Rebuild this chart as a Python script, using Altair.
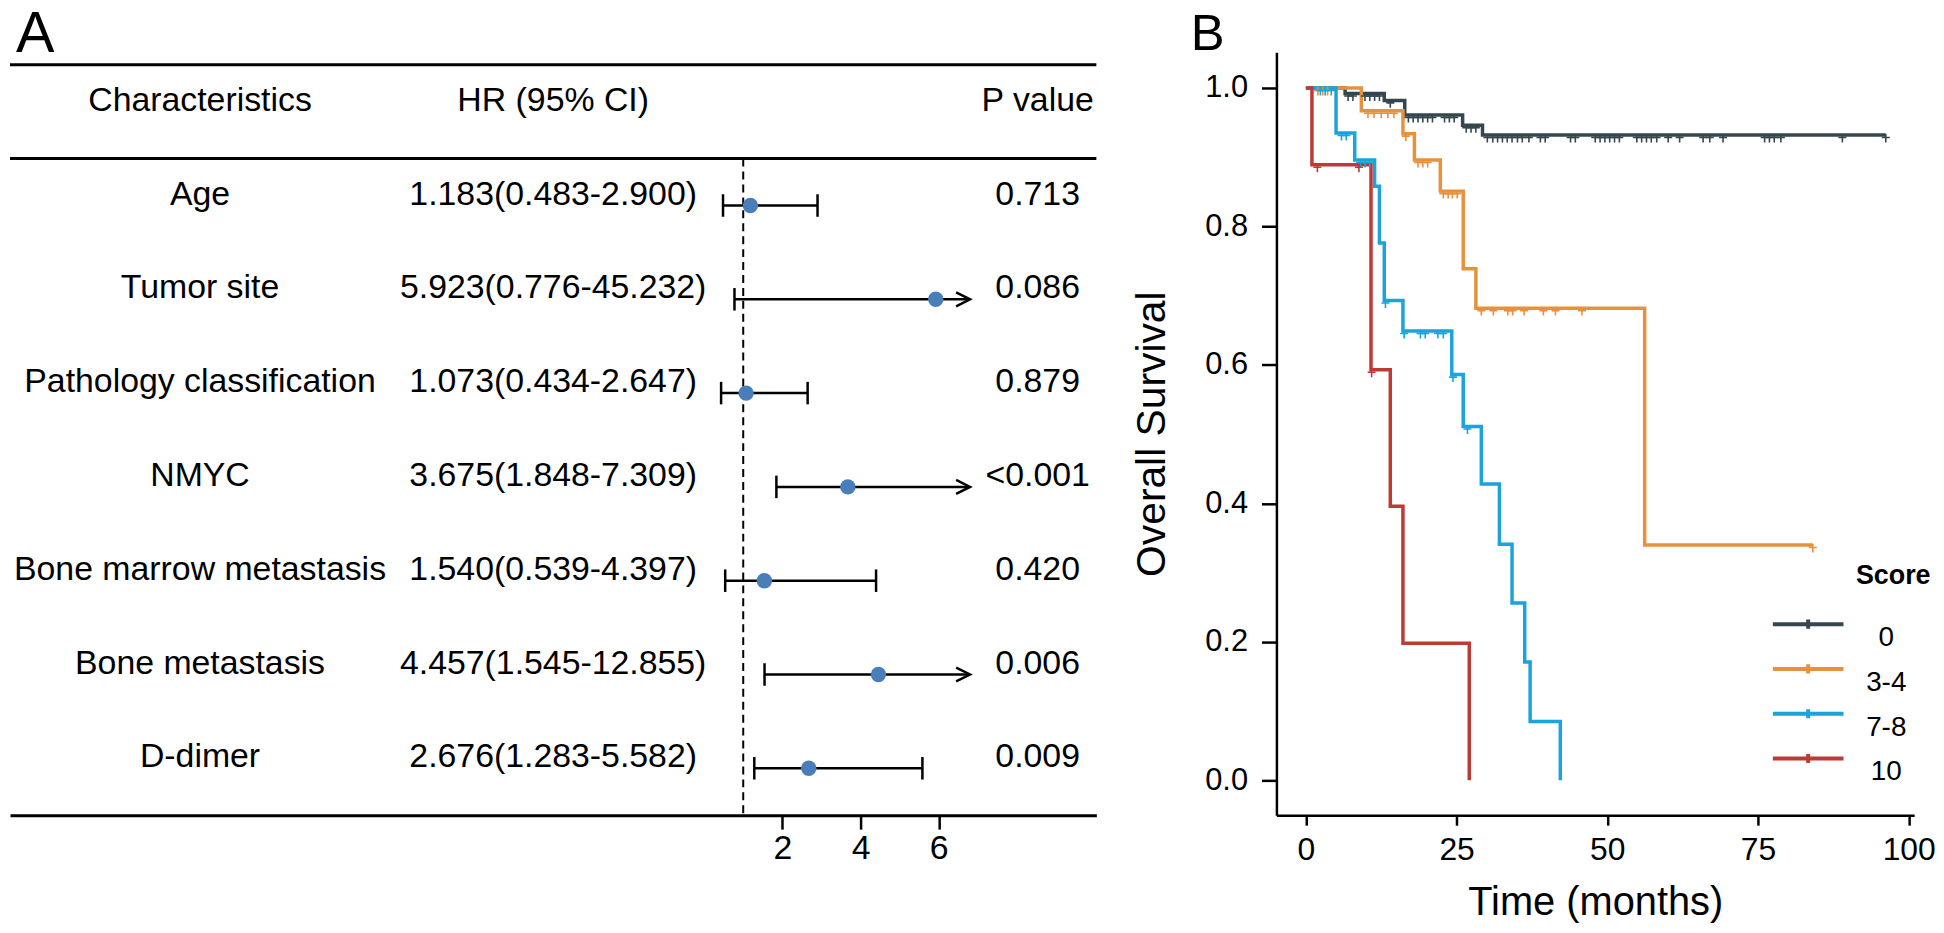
import altair as alt
import pandas as pd

FONT = "Liberation Sans"

# ---------------- Panel A: forest plot data ----------------
characteristics = ["Age", "Tumor site", "Pathology classification", "NMYC",
                   "Bone marrow metastasis", "Bone metastasis", "D-dimer"]
hr_est = [1.183, 5.923, 1.073, 3.675, 1.540, 4.457, 2.676]
ci_low = [0.483, 0.776, 0.434, 1.848, 0.539, 1.545, 1.283]
ci_high = [2.900, 45.232, 2.647, 7.309, 4.397, 12.855, 5.582]
p_values = ["0.713", "0.086", "0.879", "<0.001", "0.420", "0.006", "0.009"]
headers = ["Characteristics", "HR (95% CI)", "P value"]
hr_ticks = [2, 4, 6]
hr_axis_max = 6.8

# ---------------- Panel B: Kaplan-Meier data ----------------
score_groups = ["0", "3-4", "7-8", "10"]
score_colors = ["#34464E", "#E8913D", "#1BA3DB", "#BD3B33"]

time_0 = [0, 6.5, 13.0, 16.4, 26.0, 29.3, 96.2]
surv_0 = [1.0, 0.992, 0.982, 0.961, 0.946, 0.932, 0.932]
cens_0 = [7.0, 7.8, 9.8, 10.6, 11.4, 12.2, 14.0, 17.0, 17.8, 18.6, 19.4, 20.2,
          21.0, 23.0, 23.8, 24.6, 26.6, 27.4, 28.2, 30.1, 31.0, 31.8, 32.6,
          33.4, 34.2, 35.1, 35.9, 37.0, 38.9, 39.7, 43.9, 44.7, 48.0, 48.8,
          49.6, 50.4, 51.2, 52.0, 54.9, 55.7, 56.5, 57.3, 58.2, 60.1, 62.0,
          65.9, 67.0, 69.2, 76.1, 76.9, 77.7, 78.8, 89.0, 96.2]

time_34 = [0, 9.2, 16.1, 18.0, 22.3, 26.1, 28.2, 56.2, 84.1]
surv_34 = [1.0, 0.967, 0.934, 0.896, 0.851, 0.739, 0.682, 0.340, 0.340]
cens_34 = [2.0, 2.8, 3.6, 10.3, 11.3, 12.5, 13.6, 14.6, 16.6, 18.6, 19.4, 20.2,
           22.8, 23.6, 24.3, 25.1, 29.1, 31.1, 33.5, 34.3, 36.2, 39.4, 41.4,
           45.8, 84.1]

time_78 = [0, 5.0, 8.1, 11.4, 12.2, 13.0, 16.1, 24.2, 26.1, 29.1, 32.1, 34.2,
           36.3, 37.2, 42.2]
surv_78 = [1.0, 0.935, 0.896, 0.858, 0.776, 0.693, 0.649, 0.586, 0.511, 0.428,
           0.341, 0.256, 0.171, 0.085, 0.0]
cens_78 = [2.4, 3.2, 4.2, 5.9, 6.7, 9.0, 9.8, 10.6, 13.2, 16.3, 19.0, 19.8,
           21.9, 22.8, 24.4, 26.8]

time_10 = [0, 1.0, 10.8, 14.0, 16.1, 27.1]
surv_10 = [1.0, 0.889, 0.593, 0.396, 0.198, 0.0]
cens_10 = [1.9, 8.8, 10.9]

x_ticks_b = [0, 25, 50, 75, 100]
y_ticks_b = [0.0, 0.2, 0.4, 0.6, 0.8, 1.0]

# ---------------- build tables ----------------
n = len(characteristics)
rows = list(range(1, n + 1))
hr_text = [f"{h:.3f}({l:.3f}-{u:.3f})" for h, l, u in zip(hr_est, ci_low, ci_high)]

forest = pd.DataFrame({"row": rows, "hr": hr_est, "low": ci_low, "high": ci_high})
forest["high_draw"] = forest["high"].clip(upper=hr_axis_max)
forest["clipped"] = forest["high"] > hr_axis_max
caps = pd.concat([
    forest[["row", "low"]].rename(columns={"low": "x"}),
    forest.loc[~forest["clipped"], ["row", "high"]].rename(columns={"high": "x"}),
])
caps["y1"] = caps["row"] - 0.12
caps["y2"] = caps["row"] + 0.12
arrows = forest.loc[forest["clipped"], ["row", "high_draw"]]

col_names = pd.DataFrame({"row": [0] + rows, "text": [headers[0]] + characteristics})
col_hr = pd.DataFrame({"row": [0] + rows, "text": [headers[1]] + hr_text})
col_p = pd.DataFrame({"row": [0] + rows, "text": [headers[2]] + p_values})
table_lines = pd.DataFrame({"row": [-0.5, 0.5]})
ref_line = pd.DataFrame({"hr": [1.0], "y1": [0.5], "y2": [n + 0.5]})

km_series = {"0": (time_0, surv_0, cens_0), "3-4": (time_34, surv_34, cens_34),
             "7-8": (time_78, surv_78, cens_78), "10": (time_10, surv_10, cens_10)}
km_rows, cens_rows = [], []
for g in score_groups:
    ts, ss, cs = km_series[g]
    for t, s in zip(ts, ss):
        km_rows.append({"group": g, "t": t, "s": s})
    for c in cs:
        s_at = [s for t, s in zip(ts, ss) if t <= c][-1]
        cens_rows.append({"group": g, "t": c, "s": s_at})
km = pd.DataFrame(km_rows)
cens = pd.DataFrame(cens_rows)

# ---------------- Panel A ----------------
A_W, A_H = 1092, 767
FS_A = 34
xs_a = alt.Scale(domain=[-17.75, 10.03], nice=False, zero=False)
xa_a = alt.Axis(values=hr_ticks, title=None, grid=False, tickSize=14, tickWidth=2.5,
                tickColor="black", domainColor="black", domainWidth=3,
                labelFontSize=FS_A, labelFont=FONT, labelColor="black",
                labelPadding=3, labelFlush=False)
ys_a = alt.Scale(domain=[-0.635, n + 0.5], reverse=True, nice=False, zero=False)


def XA(f):
    return alt.X(f, type="quantitative", scale=xs_a, axis=xa_a)


def YA(f):
    return alt.Y(f, type="quantitative", scale=ys_a, axis=None)


lines_a = alt.Chart(table_lines).mark_rule(strokeWidth=3, color="black").encode(
    y=YA("row"), x=alt.value(0), x2=alt.value(A_W))
dashed = alt.Chart(ref_line).mark_rule(strokeDash=[8, 5], strokeWidth=2, color="black").encode(
    x=XA("hr"), y=YA("y1"), y2="y2:Q")
ci = alt.Chart(forest).mark_rule(strokeWidth=2.5, color="black").encode(
    x=XA("low"), x2="high_draw:Q", y=YA("row"))
cap = alt.Chart(caps).mark_rule(strokeWidth=2.5, color="black").encode(
    x=XA("x"), y=YA("y1"), y2="y2:Q")
arrow = alt.Chart(arrows).mark_point(shape="M-2,-1L0,0L-2,1", size=196, filled=False,
                                      strokeWidth=2.5, color="black", opacity=1).encode(
    x=XA("high_draw"), y=YA("row"))
dots = alt.Chart(forest).mark_point(shape="circle", filled=True, size=240,
                                     color="#4A7EBB", opacity=1).encode(
    x=XA("hr"), y=YA("row"))


def text_col(df, xpix):
    return alt.Chart(df).mark_text(font=FONT, fontSize=FS_A, align="center",
                                   baseline="middle", dy=-11, color="black").encode(
        x=alt.value(xpix), y=YA("row"), text="text:N")


panel_a = alt.layer(
    lines_a, dashed, ci, cap, arrow, dots,
    text_col(col_names, 191), text_col(col_hr, 546), text_col(col_p, 1033),
).properties(
    width=A_W, height=A_H,
    title=alt.TitleParams("A", fontSize=58, font=FONT, fontWeight="normal", anchor="start",
                          frame="group", dx=6, offset=-58, baseline="alphabetic", color="black"),
)

# ---------------- Panel B ----------------
B_W, B_H = 641, 767
xs_b = alt.Scale(domain=[-4.89, 100.9], nice=False, zero=False)
ys_b = alt.Scale(domain=[-0.0503, 1.0517], nice=False, zero=False)
xa_b = alt.Axis(values=x_ticks_b, title="Time (months)", grid=False, tickSize=10, tickWidth=2.5,
                tickColor="black", domainColor="black", domainWidth=2.5,
                labelFontSize=32, labelFont=FONT, labelColor="black", labelPadding=10,
                labelFlush=False, titleFontSize=40, titleFont=FONT, titleFontWeight="normal",
                titleColor="black", titlePadding=17)
ya_b = alt.Axis(values=y_ticks_b, format=".1f", title="Overall Survival", grid=False,
                tickSize=15, tickWidth=2.5, tickColor="black", domainColor="black",
                domainWidth=2.5, labelFontSize=31, labelFont=FONT, labelColor="black",
                labelPadding=14, labelFlush=False, titleFontSize=41, titleFont=FONT,
                titleFontWeight="normal", titleColor="black", titlePadding=31)
cscale = alt.Scale(domain=score_groups, range=score_colors)

km_lines = alt.Chart(km).mark_line(interpolate="step-after", strokeWidth=3.5).encode(
    x=alt.X("t:Q", scale=xs_b, axis=xa_b),
    y=alt.Y("s:Q", scale=ys_b, axis=ya_b),
    color=alt.Color("group:N", scale=cscale, sort=score_groups, legend=alt.Legend(
        title=None, orient="none", legendX=497, legendY=560, padding=0,
        symbolType="M-1,0H1M0,-0.13V0.13", symbolSize=5041, symbolStrokeWidth=4,
        clipHeight=30, rowPadding=2, labelFontSize=28, labelFont=FONT,
        labelColor="black", labelAlign="center", labelOffset=41, labelBaseline="top")),
)
km_cens = alt.Chart(cens).mark_point(shape="M-0.8,0.5H0.8M0,-0.2V1.5", size=100, filled=False,
                                      strokeWidth=1.6, opacity=1).encode(
    x=alt.X("t:Q", scale=xs_b, axis=xa_b),
    y=alt.Y("s:Q", scale=ys_b, axis=ya_b),
    color=alt.Color("group:N", scale=cscale, sort=score_groups, legend=None),
)
score_title = alt.Chart(pd.DataFrame({"label": ["Score"]})).mark_text(
    font=FONT, fontSize=27, fontWeight="bold", align="center", baseline="alphabetic",
    color="black").encode(x=alt.value(620), y=alt.value(535), text="label:N")

panel_b = alt.layer(km_lines, km_cens, score_title).properties(
    width=B_W, height=B_H,
    title=alt.TitleParams("B", fontSize=51, font=FONT, fontWeight="normal", anchor="start",
                          frame="group", dx=-86, offset=-49, baseline="alphabetic", color="black"),
)

chart = (alt.hconcat(panel_a, panel_b, spacing=33,
                     padding={"top": -4, "left": 0, "right": 0, "bottom": 0})
         .resolve_scale(color="independent")
         .resolve_legend(color="independent")
         .configure_view(stroke=None))
chart.save("out.html", embed_options={"renderer": "svg", "actions": False})
